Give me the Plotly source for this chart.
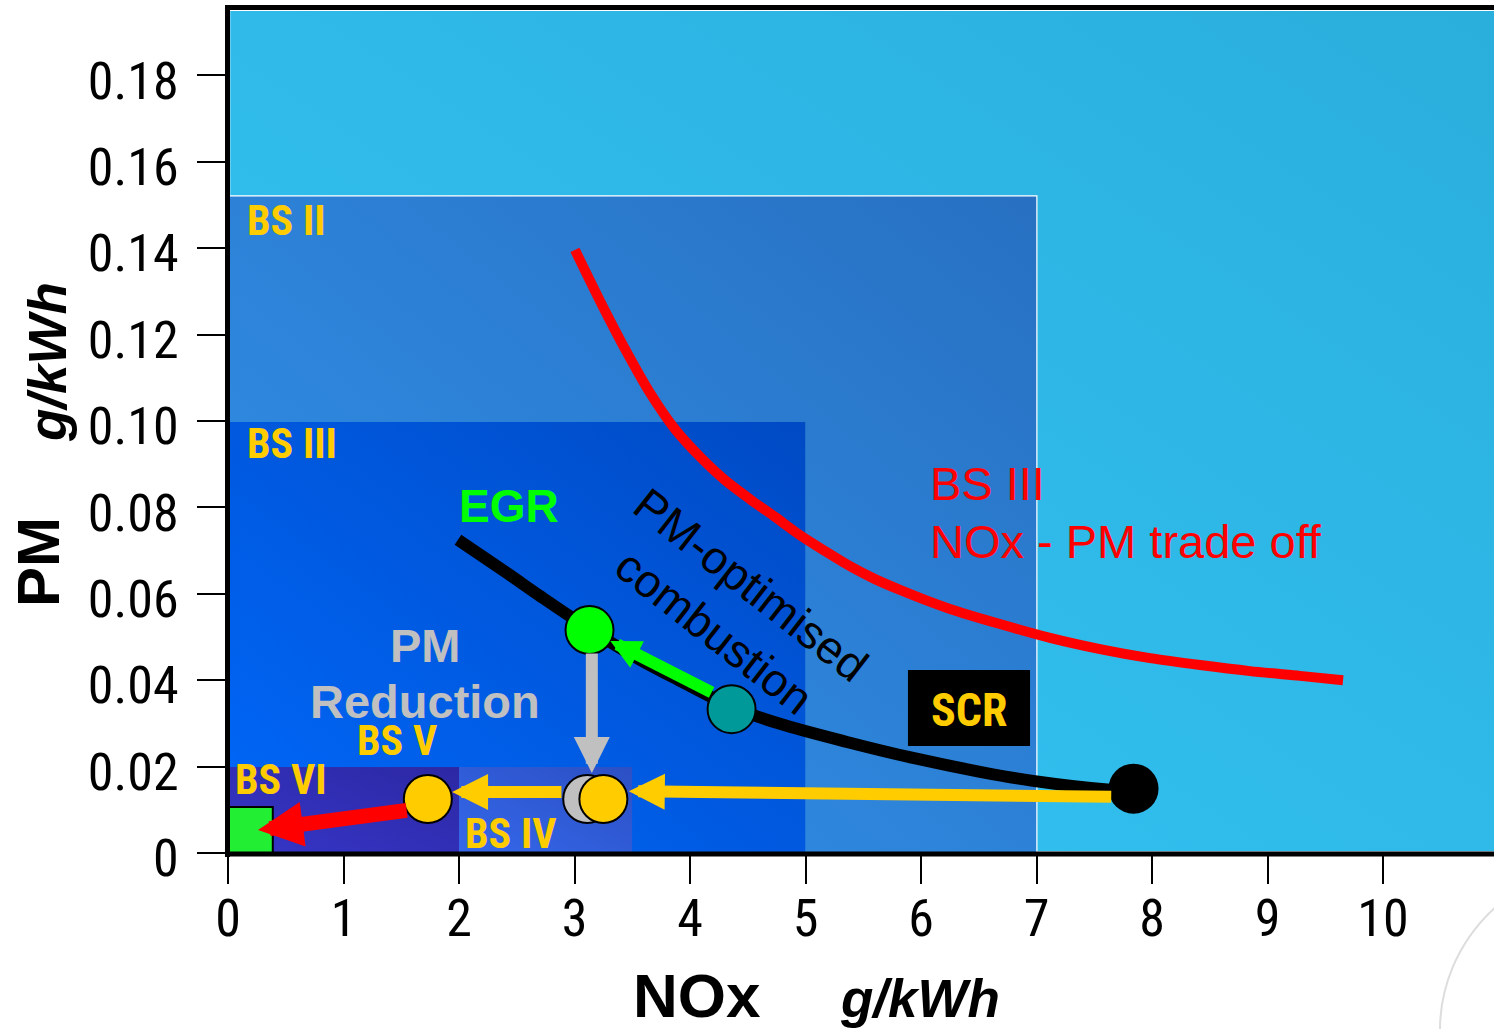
import base64
import plotly.graph_objects as go

# ---------------- data ----------------
x_ticks = [0, 1, 2, 3, 4, 5, 6, 7, 8, 9, 10]
x_tick_labels = ["0", "1", "2", "3", "4", "5", "6", "7", "8", "9", "10"]
y_ticks = [0, 0.02, 0.04, 0.06, 0.08, 0.10, 0.12, 0.14, 0.16, 0.18]
y_tick_labels = ["0", "0.02", "0.04", "0.06", "0.08", "0.10", "0.12", "0.14", "0.16", "0.18"]

# Bharat Stage norm boxes: NOx range and PM limit (g/kWh)
norm_names = ["BS II", "BS III", "BS IV", "BS VI"]
norm_nox_lo = [0, 0, 2.0, 0]
norm_nox_hi = [7.0, 5.0, 3.5, 2.0]
norm_pm = [0.152, 0.0998, 0.0199, 0.0199]

# BS III NOx-PM trade-off curve
tradeoff_nox = [3.004, 3.221, 3.437, 3.654, 3.870, 4.087, 4.303, 4.519, 4.736, 4.952,
                5.169, 5.385, 5.602, 5.818, 6.035, 6.251, 6.684, 7.117, 7.550, 7.983,
                8.416, 8.848, 9.281, 9.654]
tradeoff_pm = [0.1396, 0.1278, 0.1167, 0.1065, 0.0981, 0.0917, 0.0863, 0.0819, 0.0778, 0.0736,
               0.0699, 0.0664, 0.0634, 0.0609, 0.0586, 0.0565, 0.0530, 0.0498, 0.0472, 0.0451,
               0.0435, 0.0421, 0.0410, 0.0400]

# PM-optimised combustion curve
pmopt_nox = [1.991, 2.416, 2.701, 3.126, 3.567, 3.853, 4.364, 4.779, 5.359, 5.931,
             6.511, 6.970, 7.662, 7.835]
pmopt_pm = [0.0725, 0.0648, 0.0595, 0.0519, 0.0447, 0.0407, 0.0338, 0.0299, 0.0257, 0.0220,
            0.0188, 0.0167, 0.0146, 0.0144]

# operating points
egr_point = (3.13, 0.0516)
base_point = (4.36, 0.0333)
scr_point = (7.84, 0.0149)
grey_point = (3.11, 0.0125)
bs4_point = (3.25, 0.0125)
bs5_point = (1.73, 0.0125)
bs6_target = (0.18, 0.0051)

# arrows: (tail NOx, tail PM, tip NOx, tip PM)
arrow_egr = (4.20, 0.0370, 3.31, 0.0491)
arrow_pm_red = (3.15, 0.0465, 3.15, 0.0185)
arrow_scr = (7.66, 0.0130, 3.47, 0.0143)
arrow_bs5 = (2.90, 0.0141, 1.94, 0.0141)
arrow_bs6 = (1.56, 0.0099, 0.26, 0.0053)

# ---------------- styling ----------------
NARROW = "Liberation Sans Narrow, Arial Narrow, Roboto Condensed, DejaVu Sans Condensed, sans-serif"
ARIAL = "Liberation Sans, Arial, sans-serif"
YELLOW = "#FFCC00"
# gradient colours (bottom-left, top-right) for outer area and each norm box
outer_grad = ("#34C6F6", "#2AAEDC")
norm_grad = [("#3294EC", "#2770C2"), ("#0068FA", "#004AC4"), ("#3468EA", "#2C4FC4"), ("#3636C8", "#2C28A4")]
outer_fill = "#30BAEA"

X_MAX = 10.961
Y_MAX = 0.19514


def grad_src(c_bl, c_tr):
    svg = ('<svg xmlns="http://www.w3.org/2000/svg" width="200" height="200" viewBox="0 0 200 200" '
           'preserveAspectRatio="none"><defs><linearGradient id="g" x1="0" y1="1" x2="1" y2="0">'
           f'<stop offset="0" stop-color="{c_bl}"/><stop offset="1" stop-color="{c_tr}"/>'
           '</linearGradient></defs><rect width="200" height="200" fill="url(#g)"/></svg>')
    return "data:image/svg+xml;base64," + base64.b64encode(svg.encode()).decode()


fig = go.Figure()

# curves
fig.add_trace(go.Scatter(x=tradeoff_nox, y=tradeoff_pm, mode="lines",
                         line=dict(color="#FF0000", width=10, shape="spline", smoothing=0.8),
                         hoverinfo="skip", showlegend=False))
fig.add_trace(go.Scatter(x=pmopt_nox, y=pmopt_pm, mode="lines",
                         line=dict(color="#000000", width=12, shape="spline", smoothing=1.0),
                         hoverinfo="skip", showlegend=False))


def point(p, color, size=50, symbol="circle", lw=2):
    fig.add_trace(go.Scatter(x=[p[0]], y=[p[1]], mode="markers",
                             marker=dict(color=color, size=size, symbol=symbol,
                                         line=dict(color="#000000", width=lw)),
                             hoverinfo="skip", showlegend=False))


point(egr_point, "#00FF00", 48)
point(base_point, "#009999", 48)
point(scr_point, "#000000", 50, lw=0)
point(grey_point, "#C0C0C0", 48)
point(bs4_point, YELLOW, 48)
point(bs5_point, YELLOW, 48)
point(bs6_target, "#22EE33", 48, symbol="square")

images = []
images.append(dict(source=grad_src(*outer_grad), xref="paper", yref="paper", x=0, y=1,
                   sizex=1, sizey=1, xanchor="left", yanchor="top", sizing="stretch", layer="below"))
for lo, hi, pm, g in zip(norm_nox_lo, norm_nox_hi, norm_pm, norm_grad):
    images.append(dict(source=grad_src(*g), xref="x", yref="y", x=lo, y=pm,
                       sizex=hi - lo, sizey=pm, xanchor="left", yanchor="top",
                       sizing="stretch", layer="below"))

shapes = []
# outlines of outer area and norm boxes
shapes.append(dict(type="rect", xref="paper", yref="paper", x0=0.001, x1=1.05, y0=0.001, y1=1.0,
                   fillcolor="rgba(0,0,0,0)", line=dict(color="white", width=2), layer="below"))
for lo, hi, pm in zip(norm_nox_lo, norm_nox_hi, norm_pm):
    shapes.append(dict(type="rect", xref="x", yref="y", x0=lo, x1=hi, y0=0.0003, y1=pm,
                       fillcolor="rgba(0,0,0,0)", line=dict(color="white", width=2), layer="below"))
# SCR box
shapes.append(dict(type="rect", xref="x", yref="y", x0=5.887, x1=6.944, y0=0.02477, y1=0.04236,
                   fillcolor="#000000", line=dict(width=0), layer="above"))
# axis frame lines
H = 843.0
W = 1266.0
shapes.append(dict(type="line", xref="paper", yref="paper", x0=-0.5 / W, x1=-0.5 / W,
                   y0=-4 / H, y1=1 + 5 / H, line=dict(color="black", width=5), layer="above"))
shapes.append(dict(type="line", xref="paper", yref="paper", x0=-3 / W, x1=1.0,
                   y0=-1 / H, y1=-1 / H, line=dict(color="black", width=5), layer="above"))
shapes.append(dict(type="line", xref="paper", yref="paper", x0=-3 / W, x1=1.0,
                   y0=1 + 2.5 / H, y1=1 + 2.5 / H, line=dict(color="black", width=5), layer="above"))
# faint logo arc at bottom right
shapes.append(dict(type="circle", xref="paper", yref="paper",
                   x0=(1440 - 228) / W, x1=(1800 - 228) / W, y0=(853 - 1200) / H, y1=(853 - 860) / H,
                   line=dict(color="#DDDDDD", width=2), layer="above"))

annotations = []


def arrow(a, color, width, size):
    annotations.append(dict(x=a[2], y=a[3], ax=a[0], ay=a[1], xref="x", yref="y",
                            axref="x", ayref="y", text="", showarrow=True,
                            arrowhead=2, arrowwidth=width, arrowsize=size, arrowcolor=color,
                            standoff=0, startstandoff=0))


arrow(arrow_egr, "#00FF00", 12, 0.5)
arrow(arrow_pm_red, "#C0C0C0", 12, 0.6)
arrow(arrow_scr, YELLOW, 12, 0.6)
arrow(arrow_bs5, YELLOW, 12, 0.6)
arrow(arrow_bs6, "#FF0000", 15, 0.6)


def label(x, y, text, size, color, family, xanchor="center", angle=0, ref="x"):
    annotations.append(dict(x=x, y=y, xref=ref, yref=ref.replace("x", "y"), text=text,
                            showarrow=False, xanchor=xanchor, yanchor="middle",
                            textangle=angle, font=dict(size=size, color=color, family=family)))


label(0.147, 0.1465, "<b>BS II</b>", 42, YELLOW, NARROW, "left")
label(0.147, 0.0947, "<b>BS III</b>", 42, YELLOW, NARROW, "left")
label(1.463, 0.0260, "<b>BS V</b>", 42, YELLOW, NARROW)
label(0.043, 0.0169, "<b>BS VI</b>", 42, YELLOW, NARROW, "left")
label(2.035, 0.0046, "<b>BS IV</b>", 42, YELLOW, NARROW, "left")
label(6.416, 0.0331, "<b>SCR</b>", 46, YELLOW, NARROW)
label(2.433, 0.0803, "<b>EGR</b>", 46, "#00FF00", ARIAL)
label(1.706, 0.0481, "<b>PM</b>", 47, "#C0C0C0", ARIAL)
label(1.706, 0.0350, "<b>Reduction</b>", 47, "#C0C0C0", ARIAL)
label(6.06, 0.0856, "BS III", 47, "#FF0000", ARIAL, "left")
label(6.06, 0.0722, "NOx - PM trade off", 47, "#FF0000", ARIAL, "left")
label(4.364, 0.0567, "PM-optimised<br>combustion", 46, "#000000", ARIAL, angle=38)

# axis titles
label((38 - 228) / W, (853 - 562) / H, "<b>PM</b>", 60, "#000000", ARIAL, angle=-90, ref="paper")
label((47 - 228) / W, (853 - 362) / H, "<b><i>g/kWh</i></b>", 53, "#000000", ARIAL, angle=-90, ref="paper")
label((697 - 228) / W, (853 - 995) / H, "<b>NOx</b>", 62, "#000000", ARIAL, ref="paper")
label((920 - 228) / W, (853 - 998) / H, "<b><i>g/kWh</i></b>", 53, "#000000", ARIAL, ref="paper")

fig.update_layout(
    width=1494, height=1029,
    margin=dict(l=228, r=0, t=10, b=176, pad=0),
    paper_bgcolor="white", plot_bgcolor=outer_fill,
    shapes=shapes, annotations=annotations, images=images,
    showlegend=False,
)
fig.update_xaxes(range=[0, X_MAX], tickvals=x_ticks, ticktext=x_tick_labels,
                 ticks="outside", ticklen=30, tickwidth=2, tickcolor="black",
                 showgrid=False, zeroline=False, showline=False, ticklabelstandoff=-10,
                 tickfont=dict(size=52, family=NARROW, color="black"))
fig.update_yaxes(range=[0, Y_MAX], tickvals=y_ticks, ticktext=y_tick_labels,
                 ticks="outside", ticklen=30, tickwidth=2, tickcolor="black",
                 showgrid=False, zeroline=False, showline=False, ticklabelstandoff=8,
                 ticklabelshift=5,
                 tickfont=dict(size=52, family=NARROW, color="black"))

fig.write_html("out.html")
